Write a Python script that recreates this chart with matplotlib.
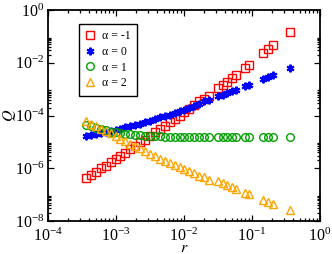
import numpy as np
import matplotlib
matplotlib.use("Agg")
import matplotlib.pyplot as plt
from matplotlib.ticker import FixedLocator, NullFormatter

plt.rcParams["font.family"] = ["Liberation Serif", "DejaVu Serif"]
plt.rcParams["mathtext.fontset"] = "stix"

# ---- data ------------------------------------------------------------
r = [3.62e-4, 4.28e-4, 5.06e-4, 5.97e-4, 7.06e-4, 8.34e-4, 9.84e-4,
     1.164e-3, 1.374e-3, 1.626e-3, 1.919e-3, 2.265e-3, 2.679e-3, 3.162e-3,
     3.741e-3, 4.416e-3, 5.21e-3, 6.17e-3, 7.28e-3, 8.61e-3, 1.016e-2,
     1.199e-2, 1.419e-2, 1.675e-2, 1.98e-2, 2.34e-2,
     0.0316, 0.0375, 0.0428, 0.0508, 0.0582, 0.0789, 0.0904,
     0.145, 0.172, 0.204, 0.362]

q_am1 = [4.27e-7, 5.54e-7, 7.21e-7, 9.79e-7, 1.27e-6, 1.72e-6, 2.24e-6,
         3.04e-6, 3.95e-6, 5.37e-6, 6.98e-6, 9.47e-6, 1.23e-5, 1.67e-5,
         2.27e-5, 3.08e-5, 4.00e-5, 5.43e-5, 7.37e-5, 1.00e-4, 1.36e-4,
         1.84e-4, 2.50e-4, 3.40e-4, 4.41e-4, 5.73e-4,
         1.06e-3, 1.43e-3, 1.86e-3, 2.53e-3, 3.29e-3, 6.33e-3, 8.22e-3,
         2.34e-2, 3.18e-2, 4.51e-2, 0.147]

q_a0 = [1.60e-5, 1.75e-5, 1.91e-5, 2.08e-5, 2.27e-5, 2.58e-5, 2.82e-5,
        3.21e-5, 3.51e-5, 4.00e-5, 4.36e-5, 4.97e-5, 5.67e-5, 6.46e-5,
        7.37e-5, 8.40e-5, 9.57e-5, 1.09e-4, 1.24e-4, 1.42e-4, 1.62e-4,
        1.92e-4, 2.29e-4, 2.73e-4, 3.40e-4, 4.04e-4,
        5.49e-4, 6.25e-4, 7.13e-4, 8.13e-4, 9.27e-4, 1.26e-3, 1.43e-3,
        2.42e-3, 2.88e-3, 3.29e-3, 6.33e-3]

q_a1 = [4.36e-5, 3.83e-5, 3.36e-5, 3.08e-5, 2.70e-5, 2.47e-5, 2.27e-5,
        2.17e-5, 1.99e-5, 1.91e-5, 1.82e-5, 1.75e-5, 1.67e-5, 1.67e-5,
        1.60e-5, 1.60e-5, 1.56e-5, 1.55e-5, 1.54e-5, 1.53e-5, 1.53e-5,
        1.53e-5, 1.52e-5, 1.52e-5, 1.52e-5, 1.52e-5,
        1.52e-5, 1.52e-5, 1.52e-5, 1.52e-5, 1.52e-5, 1.52e-5, 1.52e-5,
        1.52e-5, 1.52e-5, 1.52e-5, 1.52e-5]

q_a2 = [6.18e-5, 4.97e-5, 4.00e-5, 3.21e-5, 2.58e-5, 2.08e-5, 1.67e-5,
        1.34e-5, 1.08e-5, 8.67e-6, 6.98e-6, 5.61e-6, 4.51e-6, 3.62e-6,
        2.91e-6, 2.34e-6, 1.88e-6, 1.58e-6, 1.33e-6, 1.07e-6, 8.97e-7,
        7.53e-7, 6.33e-7, 5.31e-7, 4.46e-7, 3.74e-7,
        3.15e-7, 2.76e-7, 2.32e-7, 1.95e-7, 1.63e-7, 1.20e-7, 1.06e-7,
        6.25e-8, 5.25e-8, 4.41e-8, 2.61e-8]

labels = ["α = -1", "α = 0", "α = 1", "α = 2"]

x_major = [1e-4, 1e-3, 1e-2, 1e-1, 1e0]
y_major = [1e-8, 1e-6, 1e-4, 1e-2, 1e0]

# ---- figure ----------------------------------------------------------
fig = plt.figure(figsize=(3.32, 2.54), dpi=100)
ax = fig.add_axes([48 / 332, 1 - 221 / 254, 272 / 332, 211 / 254])

ax.plot(r, q_am1, ls="none", marker="s", ms=5.2, mfc="none", mec="#ff0000",
        mew=1.0, label=labels[0])
ax.plot(r, q_a0, ls="none", marker=(6, 2, 0), ms=5.5, color="#0000ff",
        mew=1.5, label=labels[1])
ax.plot(r, q_a1, ls="none", marker="o", ms=5.5, mfc="none", mec="#00a000",
        mew=1.0, label=labels[2])
ax.plot(r, q_a2, ls="none", marker="^", ms=5.8, mfc="none", mec="#ffa500",
        mew=1.0, label=labels[3])

ax.set_xscale("log")
ax.set_yscale("log")
ax.set_xlim(1e-4, 1)
ax.set_ylim(1e-8, 1)

ax.xaxis.set_major_locator(FixedLocator(x_major))
ax.yaxis.set_major_locator(FixedLocator(y_major))
x_minor = [m * d for d in x_major[:-1] for m in range(2, 10)]
y_minor = [m * d for d in y_major[:-1] for m in range(2, 10)]
ax.xaxis.set_minor_locator(FixedLocator(x_minor))
ax.yaxis.set_minor_locator(FixedLocator(y_minor))
ax.xaxis.set_minor_formatter(NullFormatter())
ax.yaxis.set_minor_formatter(NullFormatter())

ax.tick_params(which="both", direction="in", top=True, right=True,
               labelsize=11.5, width=0.9)
ax.tick_params(which="major", length=4.5)
ax.tick_params(axis="x", which="major", pad=4.5)
ax.tick_params(axis="y", which="major", pad=2.5)
ax.tick_params(which="minor", length=2.2)
for s in ax.spines.values():
    s.set_linewidth(1.3)

ax.set_xlabel("$r$", fontsize=11.5)
ax.set_ylabel("$Q$", fontsize=11.5)
ax.xaxis.set_label_coords(0.5, -0.092)
ax.yaxis.set_label_coords(-0.11, 0.5)

leg = ax.legend(loc="upper left", bbox_to_anchor=(0.114, 0.934), fontsize=8.5,
                frameon=True, fancybox=False, edgecolor="black", framealpha=1,
                handlelength=0.8, handletextpad=0.6, labelspacing=0.3,
                borderpad=0.55, borderaxespad=0)
leg.get_frame().set_linewidth(1.0)

fig.savefig("out.png", dpi=100)
